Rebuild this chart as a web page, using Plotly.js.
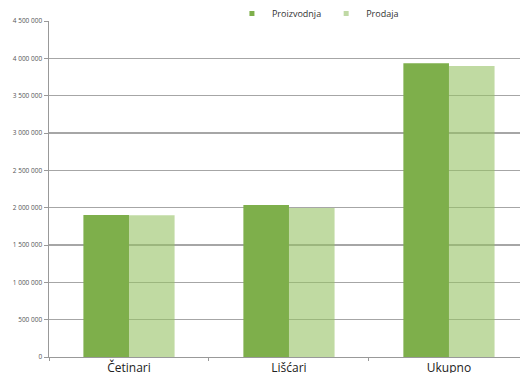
<!DOCTYPE html>
<html><head><meta charset="utf-8">
<script src="https://cdn.plot.ly/plotly-3.0.1.min.js"></script>
<style>html,body{margin:0;padding:0;background:#fff}#c{width:520px;height:373px}</style>
</head><body><div id="c"></div>
<script>
const categories = ["Četinari", "Lišćari", "Ukupno"];
const proizvodnja = [1902000, 2036000, 3933000];
const prodaja = [1897000, 1996000, 3897000];
const seriesNames = ["Proizvodnja", "Prodaja"];
const yTicks = [0, 500000, 1000000, 1500000, 2000000, 2500000, 3000000, 3500000, 4000000, 4500000];

const darkGreen = "#7EAF4B";
const lightGreen = "rgba(150,194,100,0.6)";

const traces = [
  {type:"bar", x:categories, y:proizvodnja, name:seriesNames[0], marker:{color:darkGreen}, showlegend:false},
  {type:"bar", x:categories, y:prodaja, name:seriesNames[1], marker:{color:lightGreen}, showlegend:false},
  {type:"scatter", mode:"markers", x:[null], y:[null], name:seriesNames[0], marker:{symbol:"square", size:5, color:darkGreen}},
  {type:"scatter", mode:"markers", x:[null], y:[null], name:seriesNames[1], marker:{symbol:"square", size:5, color:"#C0D9A5"}}
];

const layout = {
  width:520, height:373,
  margin:{l:49, r:0, t:21, b:16, pad:0, autoexpand:false},
  paper_bgcolor:"#fff", plot_bgcolor:"#fff",
  separators:". ",
  font:{family:"Open Sans, sans-serif", color:"#000"},
  barmode:"group", bargap:0.43, bargroupgap:0,
  showlegend:true,
  legend:{orientation:"h", xref:"paper", x:0.571, xanchor:"center", yref:"container", y:1 - 13.5/373, yanchor:"middle",
          font:{size:9, color:"#333"}, itemwidth:30, tracegroupgap:0, bgcolor:"rgba(0,0,0,0)"},
  xaxis:{type:"category", range:[-0.5, 2.444], tickson:"boundaries", ticks:"outside", ticklen:3, tickcolor:"#999",
         showline:true, linecolor:"#999", linewidth:1, showgrid:false, tickfont:{size:12, color:"#222"}, fixedrange:true},
  yaxis:{range:[0, 4500000], tickvals:yTicks, tickformat:",d", ticks:"outside", ticklen:4, tickcolor:"#999",
         showline:true, linecolor:"#999", linewidth:1.5, gridcolor:"#A6A6A6", gridwidth:1.5, zeroline:false,
         tickfont:{size:6.5, color:"#555"}, fixedrange:true}
};
Plotly.newPlot("c", traces, layout, {displayModeBar:false, staticPlot:true});
</script></body></html>
